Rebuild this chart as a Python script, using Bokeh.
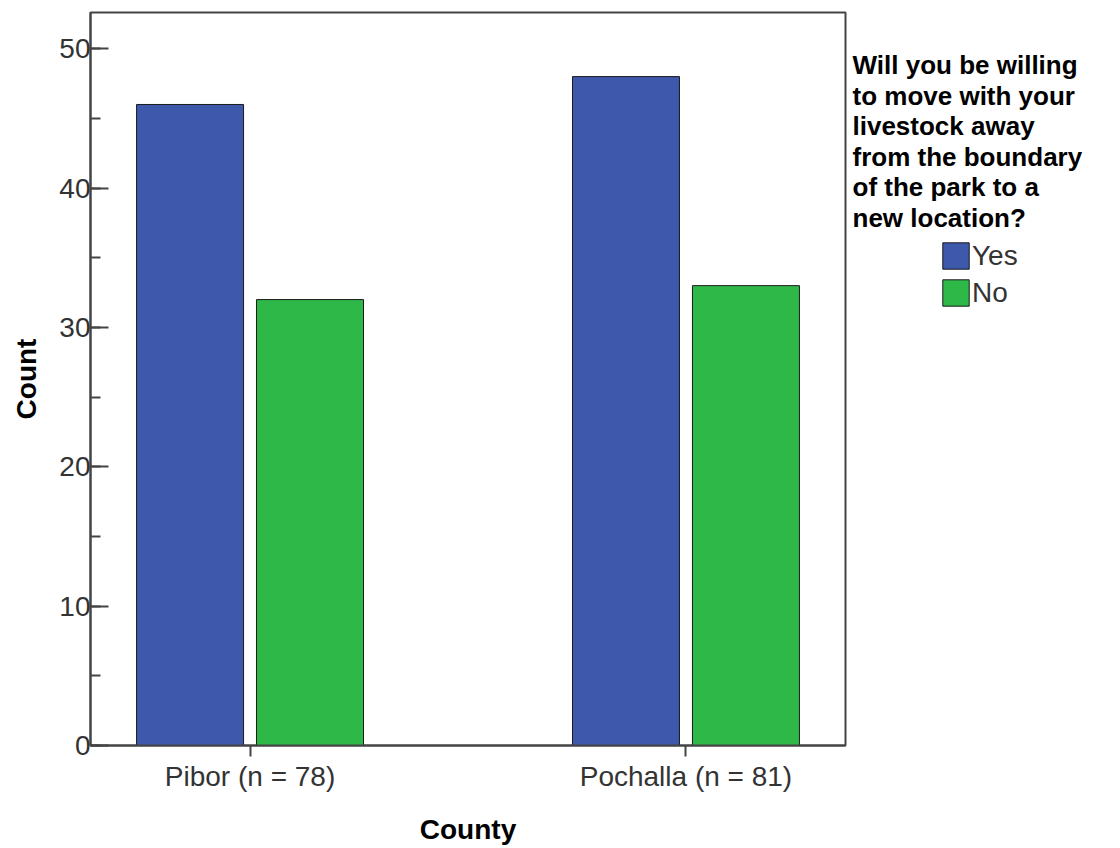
from bokeh.plotting import figure
from bokeh.layouts import row
from bokeh.models import (FactorRange, ColumnDataSource, Range1d, SingleIntervalTicker,
                          Legend, LegendItem, Label)
from bokeh.transform import dodge
from bokeh.embed import file_html
from bokeh.resources import INLINE

counties = ["Pibor (n = 78)", "Pochalla (n = 81)"]
yes_counts = [46, 48]
no_counts = [32, 33]
answers = ["Yes", "No"]
colors = ["#3E58AC", "#2EB848"]
legend_title = ("Will you be willing\nto move with your\nlivestock away\n"
                "from the boundary\nof the park to a\nnew location?")

src = ColumnDataSource(dict(county=counties, yes=yes_counts, no=no_counts))

FONT = "Liberation Sans"
H = 845
FRAME_BOTTOM = 745  # frames of the row are aligned; label y is measured from here

p = figure(
    x_range=FactorRange(factors=counties, range_padding=-0.134,
                        range_padding_units="absolute"),
    y_range=Range1d(0, 52.6),
    frame_width=755, frame_height=733,
    min_border_left=90, min_border_right=2, min_border_top=12, min_border_bottom=100,
    output_backend="svg", toolbar_location=None,
    background_fill_color="white", border_fill_color="white",
)

r_yes = p.vbar(x=dodge("county", -0.1376, range=p.x_range), top="yes", width=0.2454,
               source=src, fill_color=colors[0], line_color="#1a1a1a", line_width=1)
r_no = p.vbar(x=dodge("county", 0.1376, range=p.x_range), top="no", width=0.2454,
              source=src, fill_color=colors[1], line_color="#1a1a1a", line_width=1)

p.xgrid.visible = False
p.ygrid.visible = False
p.outline_line_color = "#444444"
p.outline_line_width = 2

# y axis
p.yaxis.ticker = SingleIntervalTicker(interval=10, num_minor_ticks=2)
p.yaxis.major_tick_in = 18
p.yaxis.major_tick_out = 0
p.yaxis.minor_tick_in = 10
p.yaxis.minor_tick_out = 0
p.yaxis.axis_label = "Count"
p.yaxis.major_label_standoff = 0
p.yaxis.axis_label_standoff = 14

# x axis
p.xaxis.major_tick_in = 0
p.xaxis.major_tick_out = 11
p.xaxis.axis_label = "County"
p.xaxis.major_label_standoff = 4
p.xaxis.axis_label_standoff = 19

for ax in (p.xaxis[0], p.yaxis[0]):
    ax.axis_line_color = "#444444"
    ax.axis_line_width = 2
    ax.major_tick_line_color = "#444444"
    ax.major_tick_line_width = 2
    ax.minor_tick_line_color = "#444444"
    ax.minor_tick_line_width = 2
    ax.major_label_text_font = FONT
    ax.major_label_text_font_size = "28px"
    ax.major_label_text_color = "#333333"
    ax.axis_label_text_font = FONT
    ax.axis_label_text_font_size = "28px"
    ax.axis_label_text_font_style = "bold"
    ax.axis_label_text_color = "#000000"

# legend panel (second figure to the right of the chart)
p2 = figure(width=1104 - 847, height=H, x_range=Range1d(0, 1), y_range=Range1d(0, 1),
            x_axis_type=None, y_axis_type=None, min_border=0,
            output_backend="svg", toolbar_location=None,
            background_fill_color="white", border_fill_color="white")
p2.outline_line_color = None
p2.xgrid.visible = False
p2.ygrid.visible = False

# hidden key renderers (only used to draw the legend swatches)
k_yes = p2.vbar(x="yes", top="yes", width=0.1, source=src, fill_color=colors[0],
                line_color="#1a1a1a", line_width=1, visible=False)
k_no = p2.vbar(x="no", top="no", width=0.1, source=src, fill_color=colors[1],
               line_color="#1a1a1a", line_width=1, visible=False)

title = Label(x=5, y=FRAME_BOTTOM - 51.5, x_units="screen", y_units="screen",
              text=legend_title,
              text_font=FONT, text_font_size="26px", text_font_style="bold",
              text_color="#000000", text_baseline="top", text_align="left",
              text_line_height=1.02)
p2.add_layout(title)

legend = Legend(items=[LegendItem(label=answers[0], renderers=[k_yes]),
                       LegendItem(label=answers[1], renderers=[k_no])],
                location=(92, FRAME_BOTTOM - 311), orientation="vertical",
                glyph_width=33, glyph_height=33, label_standoff=0, spacing=4,
                padding=0, margin=0, border_line_color=None,
                background_fill_alpha=0,
                label_text_font=FONT, label_text_font_size="28px",
                label_text_color="#333333", label_height=27)
p2.add_layout(legend, "center")

layout = row(p, p2, spacing=0)
open("out.html", "w").write(file_html(layout, INLINE))
